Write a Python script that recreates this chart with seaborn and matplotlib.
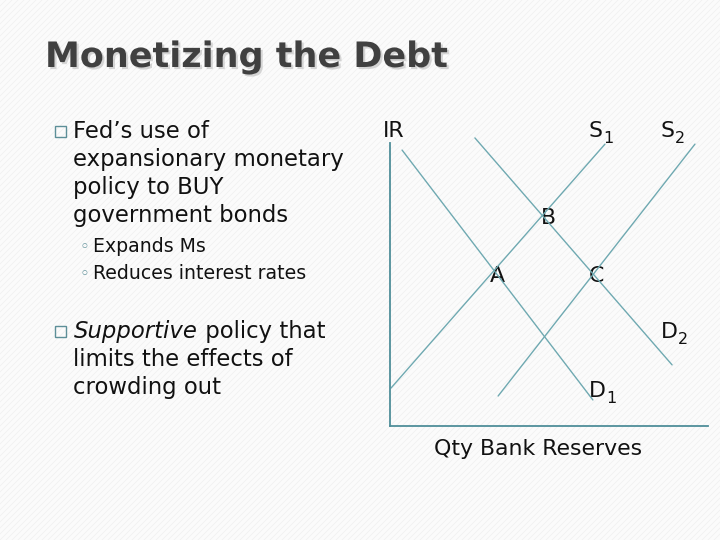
import matplotlib
matplotlib.use("Agg")
import matplotlib.pyplot as plt
import matplotlib.patheffects as pe
from matplotlib.patches import Rectangle
import seaborn as sns
import pandas as pd

# ---- data (chart units 0..10) ----
curve_names = ["D1", "D2", "S1", "S2"]
d1_x = [0.38, 6.38]
d1_y = [9.75, 0.92]
d2_x = [2.67, 8.87]
d2_y = [10.18, 2.16]
s1_x = [0.03, 6.76]
s1_y = [1.34, 9.96]
s2_x = [3.40, 9.59]
s2_y = [1.06, 9.96]

point_labels = ["A", "B", "C"]
title_text = "Monetizing the Debt"
bullet1_lines = ["Fed\u2019s use of", "expansionary monetary", "policy to BUY", "government bonds"]
sub_bullets = ["Expands Ms", "Reduces interest rates"]
bullet2_first_italic = "Supportive"
bullet2_first_rest = " policy that"
bullet2_lines = ["limits the effects of", "crowding out"]
x_label = "Qty Bank Reserves"
y_label = "IR"

rows = []
for name, xs, ys in zip(curve_names, [d1_x, d2_x, s1_x, s2_x], [d1_y, d2_y, s1_y, s2_y]):
    for x, y in zip(xs, ys):
        rows.append({"curve": name, "x": x, "y": y})
df = pd.DataFrame(rows)

sns.set_theme(style="white")
plt.rcParams["font.family"] = ["DejaVu Sans"]

BG = "#fbfbfb"
AX_C = "#4f8e99"
LINE_C = "#6fa9b1"
TXT = "#111111"

fig = plt.figure(figsize=(7.2, 5.4), dpi=100, facecolor=BG)

# background axes in pixel coords for slide text
bg = fig.add_axes([0, 0, 1, 1])
bg.set_xlim(0, 720)
bg.set_ylim(540, 0)
bg.axis("off")
bg.patch.set_alpha(0)

# faint diagonal stripes of the slide background
for k in range(-540, 720, 6):
    bg.plot([k, k + 540], [540, 0], color="#f1f1f1", lw=0.6, zorder=0)

bg.text(45, 67, title_text, fontsize=25.2, fontweight="bold", color="#404040",
        va="baseline", ha="left",
        path_effects=[pe.withSimplePatchShadow(offset=(1.5, -1.5), shadow_rgbFace="#b0b0b0", alpha=0.5)])

# bullets
sq_c = "#5d8f98"
for ytop in [126, 326]:
    bg.add_patch(Rectangle((55, ytop), 11, 11, fill=False, edgecolor=sq_c, lw=1.0))

body_fs = 16.4
for i, line in enumerate(bullet1_lines):
    bg.text(73, 138 + i * 28, line, fontsize=body_fs, color=TXT, va="baseline", ha="left")

for i, line in enumerate(sub_bullets):
    y = 252 + i * 27
    bg.text(80, y, "\u25e6", fontsize=12, color="#5d8f98", va="baseline", ha="left")
    bg.text(93, y, line, fontsize=13.6, color=TXT, va="baseline", ha="left")

t_it = bg.text(74, 338, bullet2_first_italic, fontsize=body_fs, color=TXT, style="italic",
               va="baseline", ha="left")
fig.canvas.draw()
r = fig.canvas.get_renderer()
ext = t_it.get_window_extent(r)
x_end = bg.transData.inverted().transform((ext.x1, ext.y0))[0]
bg.text(x_end, 338, bullet2_first_rest, fontsize=body_fs, color=TXT, va="baseline", ha="left")
for i, line in enumerate(bullet2_lines):
    bg.text(73, 366 + i * 28, line, fontsize=body_fs, color=TXT, va="baseline", ha="left")

# chart axes
ax = fig.add_axes([390 / 720, (540 - 426) / 540, 318 / 720, 283 / 540])
ax.patch.set_alpha(0)
sns.lineplot(data=df, x="x", y="y", hue="curve", units="curve", estimator=None,
             palette={n: LINE_C for n in curve_names}, legend=False, lw=1.0, ax=ax)
for l in ax.lines:
    l.set_clip_on(False)
ax.set_xlim(0, 10)
ax.set_ylim(0, 10)
ax.set_xticks([])
ax.set_yticks([])
ax.set_xlabel("")
ax.set_ylabel("")
for s in ["top", "right"]:
    ax.spines[s].set_visible(False)
for s in ["left", "bottom"]:
    ax.spines[s].set_color(AX_C)
    ax.spines[s].set_linewidth(1.3)

lab_fs = 15.8
sub_fs = 11.5
bg.text(383, 137, y_label, fontsize=lab_fs, color=TXT, va="baseline", ha="left")
bg.text(589, 137, "S", fontsize=lab_fs, color=TXT, va="baseline", ha="left")
bg.text(603, 143, "1", fontsize=sub_fs, color=TXT, va="baseline", ha="left")
bg.text(661, 137, "S", fontsize=lab_fs, color=TXT, va="baseline", ha="left")
bg.text(675, 143, "2", fontsize=sub_fs, color=TXT, va="baseline", ha="left")
bg.text(541, 224, point_labels[1], fontsize=lab_fs, color=TXT, va="baseline", ha="left")
bg.text(490, 282, point_labels[0], fontsize=lab_fs, color=TXT, va="baseline", ha="left")
bg.text(589, 282, point_labels[2], fontsize=lab_fs, color=TXT, va="baseline", ha="left")
bg.text(661, 338, "D", fontsize=lab_fs, color=TXT, va="baseline", ha="left")
bg.text(678, 344, "2", fontsize=sub_fs, color=TXT, va="baseline", ha="left")
bg.text(589, 397, "D", fontsize=lab_fs, color=TXT, va="baseline", ha="left")
bg.text(606, 403, "1", fontsize=sub_fs, color=TXT, va="baseline", ha="left")
bg.text(538, 455, x_label, fontsize=lab_fs, color=TXT, va="baseline", ha="center")

fig.savefig("out.png", dpi=100, facecolor=BG)
